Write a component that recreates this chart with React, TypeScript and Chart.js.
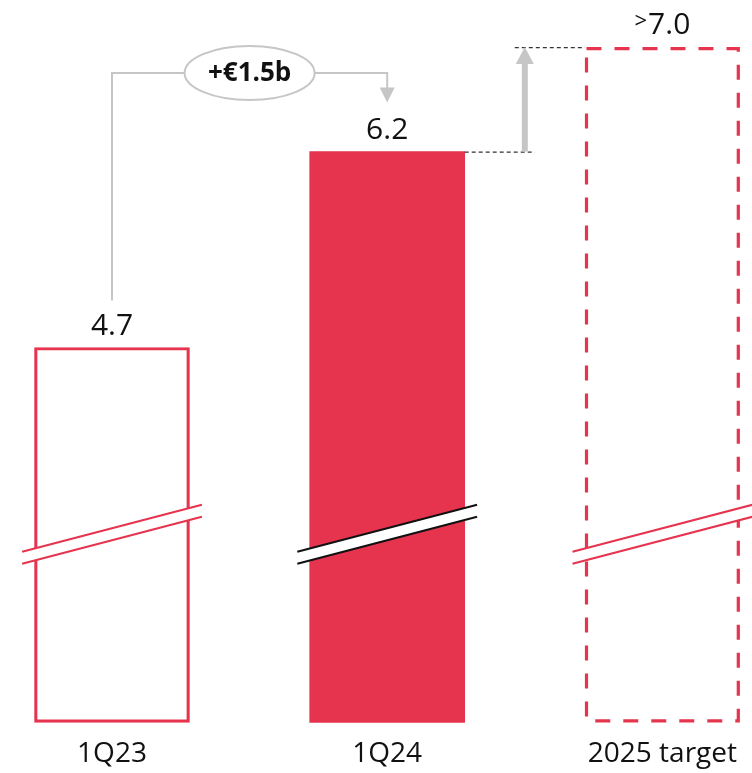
import React, { useEffect, useRef } from 'react';
import { Chart, registerables } from 'chart.js';

Chart.register(...registerables);

// ---- data ----
const CATEGORIES = ['1Q23', '1Q24', '2025 target'];
const VALUES = [4.7, 6.2, 7.0];
const VALUE_LABELS = ['4.7', '6.2', '7.0'];
const VALUE_PREFIX = ['', '', '>'];
const CHANGE_LABEL = '+€1.5b';
const BREAK_VALUE = 3.27; // where the axis-break marks cross the bars
const Y_MIN = 1.83;
const Y_MAX = 7.36;

// ---- styles ----
const RED = '#E6344F';
const GRAY = '#C6C6C6';
const TEXT = '#111111';
const FONT = '"Open Sans", "Noto Sans", sans-serif';

const decorPlugin = {
  id: 'decor',
  afterDatasetsDraw(chart: any) {
    const ctx: CanvasRenderingContext2D = chart.ctx;
    const bars = chart.getDatasetMeta(0).data as any[];
    const yScale = chart.scales.y;
    ctx.save();

    // dashed outline of the target bar
    const t = bars[2];
    const tw = t.width;
    ctx.setLineDash([15, 13]);
    ctx.strokeStyle = RED;
    ctx.lineWidth = 3.2;
    ctx.strokeRect(t.x - tw / 2 + 1.6, t.y + 1.6, tw - 3.2, t.base - t.y - 3.2);
    ctx.setLineDash([]);

    // axis-break marks
    const yb = yScale.getPixelForValue(BREAK_VALUE);
    bars.forEach((b: any, i: number) => {
      const L = b.width * 0.58;
      const k = 47 / 180;
      const g = 6;
      const x0 = b.x - L;
      const x1 = b.x + L;
      const y0 = yb + k * L;
      const y1 = yb - k * L;
      ctx.fillStyle = '#ffffff';
      ctx.beginPath();
      ctx.moveTo(x0, y0 - g);
      ctx.lineTo(x1, y1 - g);
      ctx.lineTo(x1, y1 + g);
      ctx.lineTo(x0, y0 + g);
      ctx.closePath();
      ctx.fill();
      ctx.strokeStyle = i === 1 ? '#111111' : RED;
      ctx.lineWidth = 2;
      ctx.beginPath();
      ctx.moveTo(x0, y0 - g);
      ctx.lineTo(x1, y1 - g);
      ctx.moveTo(x0, y0 + g);
      ctx.lineTo(x1, y1 + g);
      ctx.stroke();
    });

    // value labels
    ctx.fillStyle = TEXT;
    ctx.textBaseline = 'middle';
    bars.forEach((b: any, i: number) => {
      const cy = b.y - 21.5;
      ctx.font = `30px ${FONT}`;
      const main = VALUE_LABELS[i];
      const mw = ctx.measureText(main).width;
      if (VALUE_PREFIX[i]) {
        ctx.font = `22px ${FONT}`;
        const pw = ctx.measureText(VALUE_PREFIX[i]).width;
        const total = pw + 1 + mw;
        const left = b.x - total / 2;
        ctx.textAlign = 'left';
        ctx.fillText(VALUE_PREFIX[i], left, cy - 4);
        ctx.font = `30px ${FONT}`;
        ctx.fillText(main, left + pw + 1, cy);
      } else {
        ctx.textAlign = 'center';
        ctx.fillText(main, b.x, cy);
      }
    });

    // change bracket 1Q23 -> 1Q24
    const a = bars[0];
    const c = bars[1];
    const top = chart.chartArea.top + 73;
    const ocx = (a.x + c.x) / 2;
    const rx = 65;
    const ry = 27;
    ctx.strokeStyle = GRAY;
    ctx.lineWidth = 2;
    ctx.beginPath();
    ctx.moveTo(a.x, a.y - 47);
    ctx.lineTo(a.x, top);
    ctx.lineTo(ocx - rx, top);
    ctx.moveTo(ocx + rx, top);
    ctx.lineTo(c.x, top);
    ctx.lineTo(c.x, c.y - 62);
    ctx.stroke();
    ctx.fillStyle = GRAY;
    ctx.beginPath();
    ctx.moveTo(c.x - 7.5, c.y - 64);
    ctx.lineTo(c.x + 7.5, c.y - 64);
    ctx.lineTo(c.x, c.y - 49);
    ctx.closePath();
    ctx.fill();

    ctx.fillStyle = '#ffffff';
    ctx.beginPath();
    ctx.ellipse(ocx, top, rx, ry, 0, 0, Math.PI * 2);
    ctx.fill();
    ctx.stroke();
    ctx.fillStyle = TEXT;
    ctx.textAlign = 'center';
    ctx.font = `bold 26px ${FONT}`;
    ctx.fillText(CHANGE_LABEL, ocx, top + 1);

    // step to target: dashed guides + gray arrow
    const cRight = c.x + c.width / 2;
    const tLeft = t.x - tw / 2;
    const mx = (cRight + tLeft) / 2;
    ctx.setLineDash([4, 3]);
    ctx.strokeStyle = '#333333';
    ctx.lineWidth = 1.2;
    ctx.beginPath();
    ctx.moveTo(cRight, c.y + 0.5);
    ctx.lineTo(mx + 10, c.y + 0.5);
    ctx.moveTo(mx - 10, t.y + 0.5);
    ctx.lineTo(tLeft, t.y + 0.5);
    ctx.stroke();
    ctx.setLineDash([]);

    ctx.fillStyle = GRAY;
    ctx.fillRect(mx - 3, t.y + 16, 6, c.y - t.y - 16);
    ctx.beginPath();
    ctx.moveTo(mx - 9, t.y + 17);
    ctx.lineTo(mx + 9, t.y + 17);
    ctx.lineTo(mx, t.y);
    ctx.closePath();
    ctx.fill();

    ctx.restore();
  },
};

export default function App() {
  const ref = useRef<HTMLCanvasElement | null>(null);

  useEffect(() => {
    if (!ref.current) return;
    const chart = new Chart(ref.current, {
      type: 'bar',
      data: {
        labels: CATEGORIES,
        datasets: [
          {
            data: VALUES,
            base: Y_MIN,
            backgroundColor: ['#ffffff', RED, '#ffffff'],
            borderColor: [RED, RED, 'rgba(0,0,0,0)'],
            borderWidth: [3.2, 0, 0],
            borderSkipped: false,
            barThickness: 155,
            clip: false as any,
          } as any,
        ],
      },
      options: {
        animation: false,
        responsive: false,
        devicePixelRatio: 1,
        layout: { padding: { left: 112, right: 86, top: 0, bottom: -13 } },
        plugins: {
          legend: { display: false },
          tooltip: { enabled: false },
        },
        scales: {
          x: {
            offset: false,
            grid: { display: false, drawTicks: false },
            border: { display: false },
            ticks: {
              color: TEXT,
              font: { family: FONT, size: 28 },
              padding: 15,
              maxRotation: 0,
              autoSkip: false,
            },
          },
          y: { display: false, beginAtZero: false, min: Y_MIN, max: Y_MAX },
        },
      },
      plugins: [decorPlugin],
    });
    return () => chart.destroy();
  }, []);

  return (
    <div style={{ position: 'fixed', left: 0, top: 0, width: 752, height: 773, background: '#ffffff', overflow: 'hidden' }}>
      <canvas ref={ref} width={752} height={773} />
    </div>
  );
}
